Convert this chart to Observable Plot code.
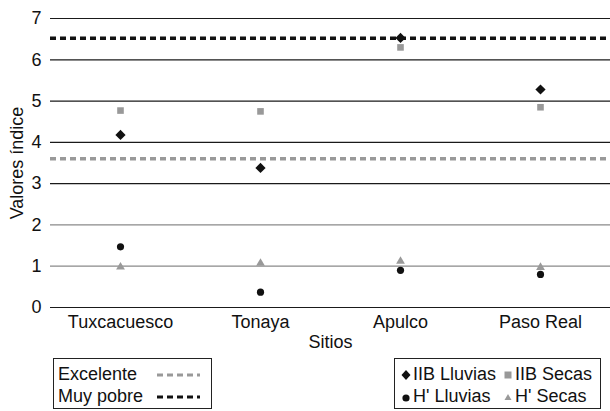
<!DOCTYPE html>
<html>
<head>
<meta charset="utf-8">
<script src="https://cdn.jsdelivr.net/npm/d3@7"></script>
<script src="https://cdn.jsdelivr.net/npm/@observablehq/plot@0.6"></script>
<style>
  body { margin: 0; background: #fff; font-family: "Liberation Sans", Arial, sans-serif; }
  #wrap { position: relative; width: 610px; height: 411px; }
  .box { position: absolute; border: 1.3px solid #222; font-size: 18px; color: #111; box-sizing: border-box; }
  .row { position: absolute; white-space: nowrap; line-height: 22px; }
</style>
</head>
<body>
<div id="wrap">
  <div id="chart"></div>
</div>
<script>
const sites = ["Tuxcacuesco", "Tonaya", "Apulco", "Paso Real"];
const iibLluvias = [4.18, 3.38, 6.53, 5.28];
const iibSecas   = [4.77, 4.75, 6.30, 4.85];
const hLluvias   = [1.47, 0.37, 0.90, 0.80];
const hSecas     = [0.98, 1.07, 1.12, 0.97];
const excelente = 3.6;
const muyPobre = 6.52;
const yTicks = [0, 1, 2, 3, 4, 5, 6, 7];

const series = [
  {name: "IIB Lluvias", values: iibLluvias, symbol: "diamond2", fill: "#111", r: 4.6},
  {name: "IIB Secas", values: iibSecas, symbol: "square2", fill: "#999", r: 4.2},
  {name: "H' Lluvias", values: hLluvias, symbol: "circle", fill: "#111", r: 3.6},
  {name: "H' Secas", values: hSecas, symbol: "triangle2", fill: "#999", r: 4.2}
];

const chart = Plot.plot({
  width: 610,
  height: 350,
  marginTop: 18,
  marginBottom: 43,
  marginLeft: 50,
  marginRight: 0,
  style: {fontFamily: "'Liberation Sans', Arial, sans-serif", fontSize: "18px", color: "#111", background: "#fff"},
  x: {type: "band", domain: sites, padding: 0, label: null},
  y: {domain: [0, 7], ticks: yTicks, label: null},
  marks: [
    Plot.ruleY(yTicks, {y: d => d, stroke: d => (d === 1 || d === 2) ? "#8a8a8a" : "#1a1a1a", strokeWidth: 1.2}),
    Plot.ruleY([excelente], {stroke: "#999", strokeWidth: 3.5, strokeDasharray: "6,4"}),
    Plot.ruleY([muyPobre], {stroke: "#111", strokeWidth: 3.5, strokeDasharray: "6,4"}),
    ...series.map(s => Plot.dot(sites.map((site, i) => ({site, v: s.values[i]})), {
      x: "site", y: "v", symbol: () => s.symbol, fill: s.fill, r: s.r, stroke: "none"
    })),
    Plot.axisY({ticks: yTicks, tickFormat: "d", tickSize: 0, tickPadding: 9, fontSize: 18, label: "Valores índice", labelAnchor: "center", labelArrow: "none", labelOffset: 40}),
    Plot.axisX({tickSize: 0, tickPadding: 8, fontSize: 18, label: "Sitios", labelAnchor: "center", labelArrow: "none", labelOffset: 40})
  ]
});
document.getElementById("chart").appendChild(chart);

// Legends
const wrap = document.getElementById("wrap");
function el(tag, cls, style, html) {
  const e = document.createElement(tag);
  if (cls) e.className = cls;
  Object.assign(e.style, style);
  if (html) e.innerHTML = html;
  return e;
}
const left = el("div", "box", {left: "53px", top: "358px", width: "159px", height: "51px"});
const lineItems = [{label: "Excelente", stroke: "#999"}, {label: "Muy pobre", stroke: "#111"}];
lineItems.forEach((it, i) => {
  left.appendChild(el("div", "row", {left: "4px", top: (4 + i * 22) + "px"}, it.label));
  left.appendChild(el("div", "row", {left: "103px", top: (4 + i * 22) + "px"},
    `<svg width="45" height="22"><line x1="0" x2="43" y1="12" y2="12" stroke="${it.stroke}" stroke-width="3.2" stroke-dasharray="6,4"/></svg>`));
});
wrap.appendChild(left);

const right = el("div", "box", {left: "394px", top: "358px", width: "207px", height: "51px"});
const symSvg = {
  "diamond2": f => `<svg width="10" height="22"><path d="M5 7 L9.5 12 L5 17 L0.5 12 Z" fill="${f}"/></svg>`,
  "square2": f => `<svg width="10" height="22"><rect x="1.5" y="8.5" width="7" height="7" fill="${f}"/></svg>`,
  "circle": f => `<svg width="10" height="22"><circle cx="5" cy="13" r="3.6" fill="${f}"/></svg>`,
  "triangle2": f => `<svg width="10" height="22"><path d="M5 9 L8.5 15 L1.5 15 Z" fill="${f}"/></svg>`
};
const lx = [[6, 108], [6, 108]];
series.forEach((s, i) => {
  const rowI = Math.floor(i / 2), colI = i % 2;
  const x = lx[rowI][colI];
  const y = 4 + rowI * 22;
  right.appendChild(el("div", "row", {left: x + "px", top: y + "px"},
    `<span style="display:inline-block;vertical-align:top;width:12px">${symSvg[s.symbol](s.fill)}</span>${s.name}`));
});
wrap.appendChild(right);
</script>
</body>
</html>
